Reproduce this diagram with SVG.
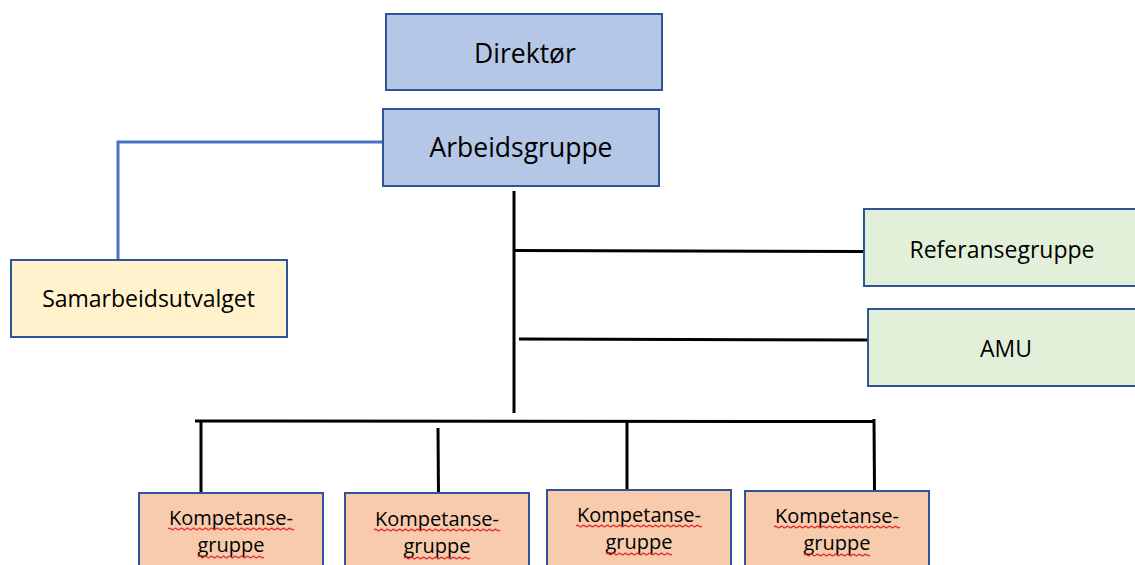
<svg xmlns="http://www.w3.org/2000/svg" width="1135" height="565" viewBox="0 0 1135 565">
<defs>
<style>
.box{stroke:#2F5597;stroke-width:2}
.blue{fill:#B4C7E7}
.yellow{fill:#FFF2CC}
.green{fill:#E2F0D9}
.orange{fill:#F8CBAD}
text{font-family:"Open Sans","Liberation Sans",sans-serif;fill:#000;text-anchor:middle}
.big{font-size:26.5px}
.mid{font-size:23px}
.sm{font-size:20px}
.conn{stroke:#000;stroke-width:3;fill:none}
.bconn{stroke:#4472C4;stroke-width:3;fill:none}
.wave{stroke:#E03030;stroke-width:1.2;fill:none}
</style>
</defs>
<rect width="1135" height="565" fill="#fff"/>
<g id="connectors">
<polyline class="bconn" points="384,142 118,142 118,260"/>
<line class="conn" x1="514" y1="191" x2="514" y2="413"/>
<line class="conn" x1="514" y1="250.5" x2="864" y2="251.5"/>
<line class="conn" x1="519" y1="339" x2="868" y2="340"/>
<line class="conn" x1="195" y1="421" x2="874" y2="421.5"/>
<line class="conn" x1="201" y1="421" x2="201" y2="493"/>
<line class="conn" x1="438" y1="428" x2="438.5" y2="497"/>
<line class="conn" x1="627" y1="421" x2="627" y2="492"/>
<line class="conn" x1="874" y1="419" x2="874.5" y2="491"/>
</g>
<g id="direktor">
<rect class="box blue" x="386" y="14" width="276" height="76"/>
<text class="big" x="525" y="63">Direktør</text>
</g>
<g id="arbeidsgruppe">
<rect class="box blue" x="383" y="109" width="276" height="77"/>
<text class="big" x="521" y="157">Arbeidsgruppe</text>
</g>
<g id="samarbeidsutvalget">
<rect class="box yellow" x="11" y="260" width="276" height="77"/>
<text class="mid" x="148.5" y="307">Samarbeidsutvalget</text>
</g>
<g id="referansegruppe">
<rect class="box green" x="864" y="209" width="280" height="77"/>
<text class="mid" x="1002" y="258">Referansegruppe</text>
</g>
<g id="amu">
<rect class="box green" x="868" y="309" width="276" height="77"/>
<text class="mid" x="1006" y="357">AMU</text>
</g>
<g id="kompetanse1">
<rect class="box orange" x="139" y="493" width="184" height="80"/>
<text class="sm" x="231" y="525">Kompetanse-</text>
<text class="sm" x="231" y="552">gruppe</text>
<path class="wave" d="M168,529 q1.5,-1.5 3,0 t3,0 t3,0 t3,0 t3,0 t3,0 t3,0 t3,0 t3,0 t3,0 t3,0 t3,0 t3,0 t3,0 t3,0 t3,0 t3,0 t3,0 t3,0 t3,0 t3,0 t3,0 t3,0 t3,0 t3,0 t3,0 t3,0 t3,0 t3,0 t3,0 t3,0 t3,0 t3,0 t3,0 t3,0 t3,0 t3,0 t3,0 t3,0 t3,0 t3,0 t3,0"/>
<path class="wave" d="M198,557 q1.5,-1.5 3,0 t3,0 t3,0 t3,0 t3,0 t3,0 t3,0 t3,0 t3,0 t3,0 t3,0 t3,0 t3,0 t3,0 t3,0 t3,0 t3,0 t3,0 t3,0 t3,0 t3,0 t3,0"/>
</g>
<g id="kompetanse2">
<rect class="box orange" x="345" y="493" width="184" height="80"/>
<text class="sm" x="437" y="526">Kompetanse-</text>
<text class="sm" x="437" y="553">gruppe</text>
<path class="wave" d="M374,530 q1.5,-1.5 3,0 t3,0 t3,0 t3,0 t3,0 t3,0 t3,0 t3,0 t3,0 t3,0 t3,0 t3,0 t3,0 t3,0 t3,0 t3,0 t3,0 t3,0 t3,0 t3,0 t3,0 t3,0 t3,0 t3,0 t3,0 t3,0 t3,0 t3,0 t3,0 t3,0 t3,0 t3,0 t3,0 t3,0 t3,0 t3,0 t3,0 t3,0 t3,0 t3,0 t3,0 t3,0"/>
<path class="wave" d="M404,558 q1.5,-1.5 3,0 t3,0 t3,0 t3,0 t3,0 t3,0 t3,0 t3,0 t3,0 t3,0 t3,0 t3,0 t3,0 t3,0 t3,0 t3,0 t3,0 t3,0 t3,0 t3,0 t3,0 t3,0"/>
</g>
<g id="kompetanse3">
<rect class="box orange" x="547" y="490" width="184" height="80"/>
<text class="sm" x="639" y="522">Kompetanse-</text>
<text class="sm" x="639" y="549">gruppe</text>
<path class="wave" d="M576,526 q1.5,-1.5 3,0 t3,0 t3,0 t3,0 t3,0 t3,0 t3,0 t3,0 t3,0 t3,0 t3,0 t3,0 t3,0 t3,0 t3,0 t3,0 t3,0 t3,0 t3,0 t3,0 t3,0 t3,0 t3,0 t3,0 t3,0 t3,0 t3,0 t3,0 t3,0 t3,0 t3,0 t3,0 t3,0 t3,0 t3,0 t3,0 t3,0 t3,0 t3,0 t3,0 t3,0 t3,0"/>
<path class="wave" d="M606,554 q1.5,-1.5 3,0 t3,0 t3,0 t3,0 t3,0 t3,0 t3,0 t3,0 t3,0 t3,0 t3,0 t3,0 t3,0 t3,0 t3,0 t3,0 t3,0 t3,0 t3,0 t3,0 t3,0 t3,0"/>
</g>
<g id="kompetanse4">
<rect class="box orange" x="745" y="491" width="184" height="80"/>
<text class="sm" x="837" y="523">Kompetanse-</text>
<text class="sm" x="837" y="550">gruppe</text>
<path class="wave" d="M774,527 q1.5,-1.5 3,0 t3,0 t3,0 t3,0 t3,0 t3,0 t3,0 t3,0 t3,0 t3,0 t3,0 t3,0 t3,0 t3,0 t3,0 t3,0 t3,0 t3,0 t3,0 t3,0 t3,0 t3,0 t3,0 t3,0 t3,0 t3,0 t3,0 t3,0 t3,0 t3,0 t3,0 t3,0 t3,0 t3,0 t3,0 t3,0 t3,0 t3,0 t3,0 t3,0 t3,0 t3,0"/>
<path class="wave" d="M804,555 q1.5,-1.5 3,0 t3,0 t3,0 t3,0 t3,0 t3,0 t3,0 t3,0 t3,0 t3,0 t3,0 t3,0 t3,0 t3,0 t3,0 t3,0 t3,0 t3,0 t3,0 t3,0 t3,0 t3,0"/>
</g>
</svg>
